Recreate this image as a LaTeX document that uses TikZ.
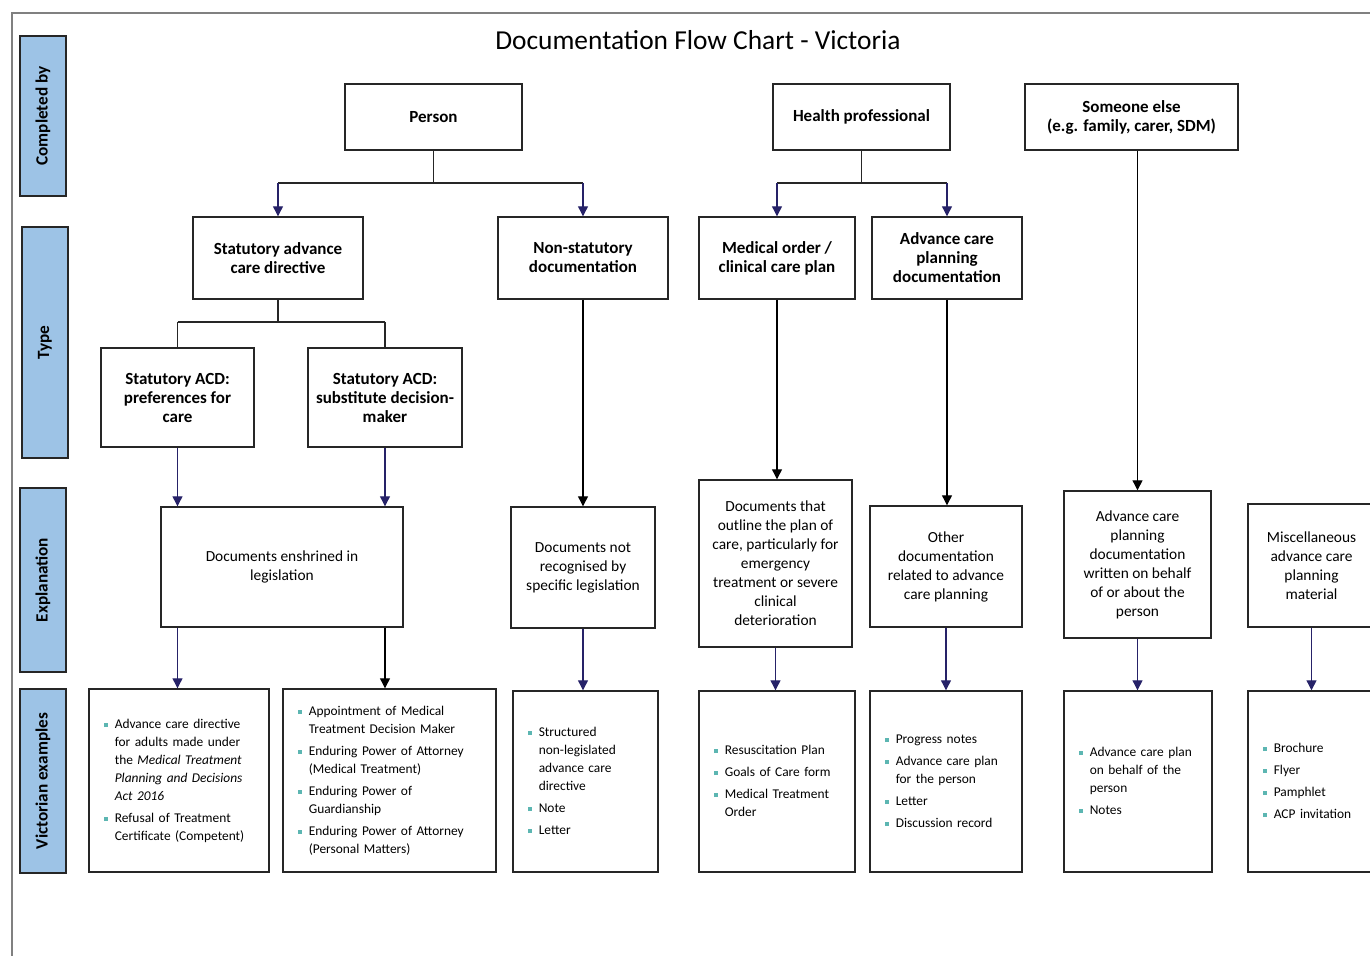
\documentclass[tikz,border=0pt]{standalone}
\usepackage{fontspec}
\setmainfont{Carlito}
\usepackage{xcolor}
\usetikzlibrary{positioning,arrows.meta}
\definecolor{sideblue}{RGB}{157,195,230}
\definecolor{arrnavy}{RGB}{38,34,104}
\definecolor{bulteal}{RGB}{92,182,178}
\newcommand{\bl}{\textcolor{bulteal}{\rule[0.5pt]{2.2pt}{2.2pt}}}
\newcommand{\blist}[1]{\noindent\begin{tabular}{@{}l@{\hspace{3.2pt}}l@{}}#1\end{tabular}}

\begin{document}
\begin{tikzpicture}[x=0.5pt,y=-0.5pt,
                    wh/.style 2 args={minimum width=#1*0.5pt, minimum height=#2*0.5pt},
                    box/.style={draw=black!85, line width=0.7pt, inner sep=0pt, align=center},
                    head/.style={box, font=\fontsize{8.5}{9.5}\selectfont\bfseries},
                    expl/.style={box, font=\fontsize{7.7}{9.5}\selectfont},
                    exbox/.style={box, align=left, font=\fontsize{6.7}{9}\selectfont},
                    side/.style={draw=black!85, line width=0.7pt, fill=sideblue, rotate=90,
                                 inner sep=0pt, font=\fontsize{8.6}{10}\selectfont\bfseries},
                    ln/.style={draw=black!85, line width=0.6pt},
                    arrn/.style={draw=arrnavy, line width=0.6pt, -{Triangle[width=5pt,length=5pt]}},
                    arrb/.style={draw=black, line width=0.6pt, -{Triangle[width=5pt,length=5pt]}}]
\useasboundingbox (0,0) rectangle (1370,956);
\draw[draw=gray, line width=1.2pt] (12,956) -- (12,13) -- (1370,13);

\node[font=\fontsize{13.7}{16}\selectfont] (title) at (698,40) {Documentation Flow Chart - Victoria};

% row labels
\node[side, wh={160}{46}] (sdone) at (43,116)   {Completed by};
\node[side, wh={231}{46}] (stype) at (45,342.5) {Type};
\node[side, wh={184}{46}] (sexpl) at (43,580)   {Explanation};
\node[side, wh={184}{46}] (sexam) at (43,781)   {Victorian examples};

% completed by
\node[head, wh={177}{66}] (person) at (433.5,117)  {Person};
\node[head, wh={177}{66}] (hprof)  at (861.5,117)  {Health professional};
\node[head, wh={213}{66}] (selse)  at (1131.5,117) {Someone else\\(e.g. family, carer, SDM)};

% type
\node[head, wh={170}{82}] (sacd)    at (278,258) {Statutory advance\\care directive};
\node[head, wh={170}{82}] (nonstat) at (583,258) {Non-statutory\\documentation};
\node[head, wh={156}{82}] (medord)  at (777,258) {Medical order /\\clinical care plan};
\node[head, wh={150}{82}] (acpdoc)  at (947,258) {Advance care\\planning\\documentation};
\node[head, wh={153}{99}] (pref)    at (177.5,397.5) {Statutory ACD:\\preferences for\\care};
\node[head, wh={154}{99}] (subdm)   at (385,397.5)   {Statutory ACD:\\substitute decision-\\maker};

% explanation
\node[expl, wh={242}{120}] (enshr)   at (282,567)      {Documents enshrined in\\legislation};
\node[expl, wh={144}{121}] (notrec)  at (583,567.5)    {Documents not\\recognised by\\specific legislation};
\node[expl, wh={153}{167}] (outline) at (775.5,563.5)  {Documents that\\outline the plan of\\care, particularly for\\emergency\\treatment or severe\\clinical\\deterioration};
\node[expl, wh={152}{121}] (other)   at (946,566.5)    {Other\\documentation\\related to advance\\care planning};
\node[expl, wh={147}{147}] (behalf)  at (1137.5,564.5) {Advance care\\planning\\documentation\\written on behalf\\of or about the\\person};
\node[expl, wh={127}{123}] (misc)    at (1311.5,565.5) {Miscellaneous\\advance care\\planning\\material};

% victorian examples
\node[exbox, wh={180}{183}, text width=75pt] (ex1) at (179,780.5)
  {\blist{\bl & Advance care directive\\ & for adults made under\\ & the \textit{Medical Treatment}\\
   & \textit{Planning and Decisions}\\ & \textit{Act 2016}\\[2pt]
   \bl & Refusal of Treatment\\ & Certificate (Competent)}};
\node[exbox, wh={213}{183}, text width=91.5pt] (ex2) at (389.5,780.5)
  {\blist{\bl & Appointment of Medical\\ & Treatment Decision Maker\\[2pt]
   \bl & Enduring Power of Attorney\\ & (Medical Treatment)\\[2pt]
   \bl & Enduring Power of\\ & Guardianship\\[2pt]
   \bl & Enduring Power of Attorney\\ & (Personal Matters)}};
\node[exbox, wh={145}{181}, text width=57.5pt] (ex3) at (585.5,781.5)
  {\blist{\bl & Structured\\ & non-legislated\\ & advance care\\ & directive\\[2pt]
   \bl & Note\\[2pt] \bl & Letter}};
\node[exbox, wh={156}{181}, text width=63pt] (ex4) at (777,781.5)
  {\blist{\bl & Resuscitation Plan\\[2pt] \bl & Goals of Care form\\[2pt]
   \bl & Medical Treatment\\ & Order}};
\node[exbox, wh={152}{181}, text width=61pt] (ex5) at (946,781.5)
  {\blist{\bl & Progress notes\\[2pt] \bl & Advance care plan\\ & for the person\\[2pt]
   \bl & Letter\\[2pt] \bl & Discussion record}};
\node[exbox, wh={148}{181}, text width=59pt] (ex6) at (1138,781.5)
  {\blist{\bl & Advance care plan\\ & on behalf of the\\ & person\\[2pt] \bl & Notes}};
\node[exbox, wh={127}{181}, text width=48.5pt] (ex7) at (1311.5,781.5)
  {\blist{\bl & Brochure\\[2pt] \bl & Flyer\\[2pt] \bl & Pamphlet\\[2pt] \bl & ACP invitation}};

% branches
\coordinate (pj) at (433.5,183);
\draw[ln] (person) -- (pj);
\draw[ln] (pj -| sacd) -- (pj -| nonstat);
\draw[arrn] (pj -| sacd) -- (sacd);
\draw[arrn] (pj -| nonstat) -- (nonstat);

\coordinate (hj) at (861.5,183);
\draw[ln] (hprof) -- (hj);
\draw[ln] (hj -| medord) -- (hj -| acpdoc);
\draw[arrn] (hj -| medord) -- (medord);
\draw[arrn] (hj -| acpdoc) -- (acpdoc);

\coordinate (sj) at (278,322);
\draw[ln] (sacd) -- (sj);
\draw[ln] (sj -| pref) -- (sj -| subdm);
\draw[ln] (sj -| pref) -- (pref);
\draw[ln] (sj -| subdm) -- (subdm);

% type to explanation
\draw[arrn] (pref) -- (pref |- enshr.north);
\draw[arrn] (subdm) -- (subdm |- enshr.north);
\draw[arrb] (nonstat) -- (notrec);
\draw[arrb] (medord) -- (medord |- outline.north);
\draw[arrb] (acpdoc) -- (acpdoc |- other.north);
\draw[arrb] (behalf |- selse.south) -- (behalf);

% explanation to examples
\draw[arrn] (pref |- enshr.south) -- (pref |- ex1.north);
\draw[arrb] (subdm |- enshr.south) -- (subdm |- ex2.north);
\draw[arrn] (notrec) -- (notrec |- ex3.north);
\draw[arrn] (outline) -- (outline |- ex4.north);
\draw[arrn] (other) -- (other |- ex5.north);
\draw[arrn] (behalf) -- (behalf |- ex6.north);
\draw[arrn] (misc) -- (misc |- ex7.north);
\end{tikzpicture}
\end{document}
